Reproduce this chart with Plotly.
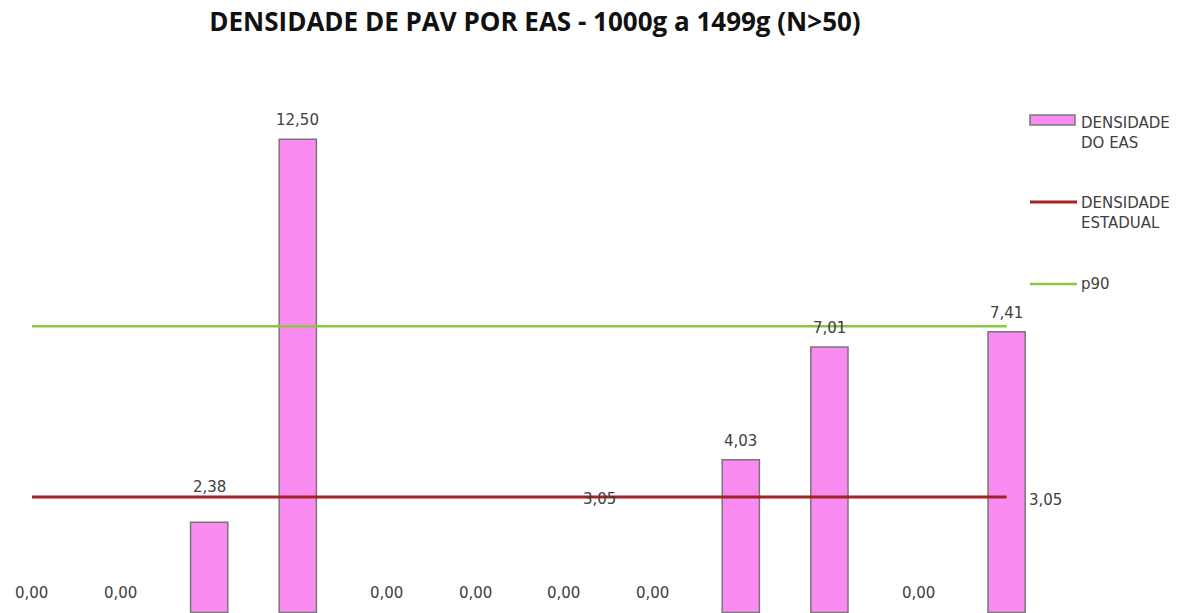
import plotly.graph_objects as go

# ---- data ----
categories = [f"EAS {i}" for i in range(1, 13)]
densidade_eas = [0.00, 0.00, 2.38, 12.50, 0.00, 0.00, 0.00, 0.00, 4.03, 7.01, 0.00, 7.41]
densidade_estadual = 3.05
p90 = 7.56
bar_labels = [f"{v:.2f}".replace(".", ",") for v in densidade_eas]
estadual_label = f"{densidade_estadual:.2f}".replace(".", ",")

PINK = "#FA8BF0"
RED = "#A12323"
GREEN = "#8CC63E"
TXT = "#404040"
FONT = "DejaVu Sans"

fig = go.Figure()

fig.add_trace(go.Bar(
    x=categories, y=densidade_eas, width=0.42,
    marker=dict(color=PINK,
                line=dict(color="#777777", width=[1.5 if v > 0 else 0 for v in densidade_eas])),
    name="DENSIDADE DO EAS", showlegend=False, hoverinfo="skip",
))
fig.add_trace(go.Scatter(
    x=categories, y=[densidade_estadual] * len(categories), mode="lines",
    line=dict(color=RED, width=3), name="DENSIDADE ESTADUAL", showlegend=False,
))
fig.add_trace(go.Scatter(
    x=categories, y=[p90] * len(categories), mode="lines",
    line=dict(color=GREEN, width=2.5), name="p90", showlegend=False,
))

# label offsets (pixels above bar top); the 2,38 label is lifted clear of the state line
label_lift = {2: 35}

annotations = []
for i, (c, v, t) in enumerate(zip(categories, densidade_eas, bar_labels)):
    annotations.append(dict(x=c, y=v, xref="x", yref="y", text=t, showarrow=False,
                            yanchor="middle", yshift=label_lift.get(i, 19),
                            font=dict(family=FONT, size=15, color=TXT)))
# estadual line labels
annotations.append(dict(x=6.41, y=densidade_estadual, xref="x", yref="y", text=estadual_label,
                        showarrow=False, yanchor="middle", yshift=-2,
                        font=dict(family=FONT, size=15, color=TXT)))
annotations.append(dict(x=len(categories) - 1, y=densidade_estadual, xref="x", yref="y",
                        text=estadual_label, showarrow=False, xanchor="left", yanchor="middle",
                        xshift=20, yshift=-3, font=dict(family=FONT, size=15, color=TXT)))

# manual legend (pixel-ish placement in paper coords)
W, H = 1194, 613
L, R, T, B = 0, 164, 60, 0
pw, ph = W - L - R, H - T - B

def px(x):
    return (x - L) / pw

def py(y):
    return (H - B - y) / ph

shapes = [
    dict(type="rect", xref="paper", yref="paper", x0=px(1030), x1=px(1075), y0=py(125), y1=py(115),
         fillcolor=PINK, line=dict(color="#777777", width=1.5)),
    dict(type="line", xref="paper", yref="paper", x0=px(1030), x1=px(1077), y0=py(202), y1=py(202),
         line=dict(color=RED, width=3)),
    dict(type="line", xref="paper", yref="paper", x0=px(1030), x1=px(1077), y0=py(284), y1=py(284),
         line=dict(color=GREEN, width=2.5)),
]
legend_texts = [("DENSIDADE<br>DO EAS", 122), ("DENSIDADE<br>ESTADUAL", 202), ("p90", 284)]
for txt, yy in legend_texts:
    multi = "<br>" in txt
    annotations.append(dict(x=px(1079), y=py(yy - 10 if multi else yy),
                            xref="paper", yref="paper", text=txt, showarrow=False,
                            xanchor="left", yanchor="top" if multi else "middle",
                            align="left",
                            font=dict(family=FONT, size=15, color=TXT)))

fig.update_layout(
    width=W, height=H,
    margin=dict(l=L, r=R, t=T, b=B),
    paper_bgcolor="white", plot_bgcolor="white",
    title=dict(text="<b>DENSIDADE DE PAV POR EAS - 1000g a 1499g (N>50)</b>",
               x=535 / W, xanchor="center", y=1 - 22 / H, yanchor="middle",
               font=dict(family="Open Sans", size=26, color="#111111")),
    xaxis=dict(range=[-0.361, 11.264], showticklabels=False, showgrid=False,
               zeroline=False, showline=False, ticks=""),
    yaxis=dict(range=[-0.016, 14.59], showticklabels=False, showgrid=False,
               zeroline=False, showline=False, ticks=""),
    showlegend=False,
    annotations=annotations,
    shapes=shapes,
)

fig.write_html("out.html",
               config={"displayModeBar": False, "staticPlot": True},
               post_script="document.body.style.margin='0';document.body.style.overflow='hidden';")
